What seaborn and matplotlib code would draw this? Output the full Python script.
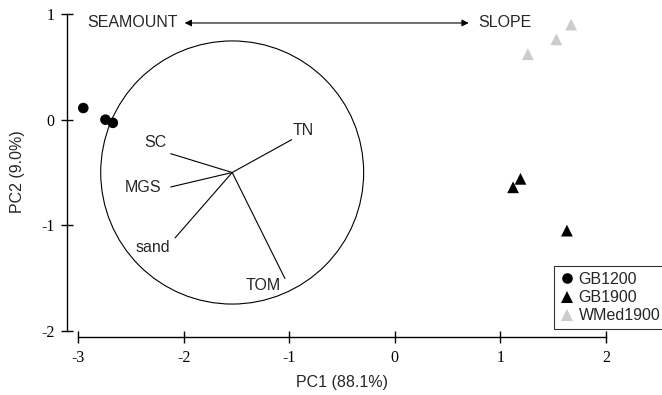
import numpy as np
import pandas as pd
import matplotlib
matplotlib.use("Agg")
import matplotlib.pyplot as plt
from matplotlib.patches import Circle
import seaborn as sns

# Sample scores on the first two principal components
groups = ["GB1200", "GB1200", "GB1200",
          "GB1900", "GB1900", "GB1900",
          "WMed1900", "WMed1900", "WMed1900"]
pc1 = [-2.95, -2.74, -2.67, 1.19, 1.12, 1.63, 1.67, 1.53, 1.26]
pc2 = [0.11, 0.00, -0.03, -0.56, -0.64, -1.05, 0.90, 0.76, 0.62]

# Variable loadings (drawn around the correlation circle centre)
var_names = ["TN", "SC", "MGS", "sand", "TOM"]
load_x = [-0.976, -2.122, -2.122, -2.081, -1.040]
load_y = [-0.189, -0.322, -0.637, -1.119, -1.504]
label_x = [-0.87, -2.27, -2.38, -2.29, -1.25]
label_y = [-0.10, -0.215, -0.643, -1.208, -1.568]
circle_center = (-1.54, -0.50)
circle_radius = 1.245

x_ticks = [-3, -2, -1, 0, 1, 2]
y_ticks = [-2, -1, 0, 1]

df = pd.DataFrame({"PC1": pc1, "PC2": pc2, "group": groups})

sns.set_style("ticks")
plt.rcParams["font.family"] = ["Liberation Sans", "DejaVu Sans"]

fig = plt.figure(figsize=(6.62, 3.95), dpi=100)
W, H = 662, 395
ax = fig.add_axes([67 / W, (H - 337) / H, (662 - 67) / W, 337 / H])

palette = {"GB1200": "black", "GB1900": "black", "WMed1900": "#cccccc"}
markers = {"GB1200": "o", "GB1900": "^", "WMed1900": "^"}
sizes = {"GB1200": 58, "GB1900": 72, "WMed1900": 72}
sns.scatterplot(data=df, x="PC1", y="PC2", hue="group", style="group",
                size="group", sizes=sizes,
                palette=palette, markers=markers, linewidth=0,
                ax=ax, legend="full", zorder=3)

# correlation circle and loading vectors
ax.add_patch(Circle(circle_center, circle_radius, fill=False,
                    edgecolor="black", linewidth=0.8))
for lx, ly, tx, ty, name in zip(load_x, load_y, label_x, label_y, var_names):
    ax.plot([circle_center[0], lx], [circle_center[1], ly],
            color="black", linewidth=0.8)
    ax.text(tx, ty, name, fontsize=11.5, ha="center", va="center")

# gradient annotation
ax.annotate("", xy=(-1.99, 0.915), xytext=(0.70, 0.915),
            arrowprops=dict(arrowstyle="<|-|>", color="black", lw=0.8,
                            mutation_scale=10, shrinkA=0, shrinkB=0))
ax.text(-2.48, 0.915, "SEAMOUNT", fontsize=11.5, ha="center", va="center")
ax.text(1.04, 0.915, "SLOPE", fontsize=11.5, ha="center", va="center")

ax.set_xlim(-3 - 11 / 105.6, 2 + 56 / 105.6)
ax.set_ylim(-2 - 6 / 105.7, 1 + 14 / 105.7)
ax.set_xticks(x_ticks)
ax.set_yticks(y_ticks)
ax.set_xticklabels([str(v) for v in x_ticks], family="Liberation Serif", fontsize=11.5)
ax.set_yticklabels([str(v) for v in y_ticks], family="Liberation Serif", fontsize=11.5)
ax.tick_params(direction="inout", length=8, width=1, pad=5, colors="black")

for side in ["top", "right"]:
    ax.spines[side].set_visible(False)
ax.spines["left"].set_bounds(-2, 1)
ax.spines["bottom"].set_bounds(-3, 2)
for side in ["left", "bottom"]:
    ax.spines[side].set_linewidth(1)
    ax.spines[side].set_color("black")

ax.set_xlabel("PC1 (88.1%)", fontsize=11.5)
ax.set_ylabel("PC2 (9.0%)", fontsize=11.5)
ax.xaxis.set_label_coords((342 - 67) / (662 - 67), -(375 - 337) / 337)
ax.yaxis.set_label_coords(-(67 - 25) / (662 - 67), (337 - 172) / 337)

handles, labels = ax.get_legend_handles_labels()
leg = ax.legend(handles, labels, loc="lower right",
                bbox_to_anchor=((666 - 67) / (662 - 67), (337 - 329) / 337),
                frameon=True, fancybox=False, fontsize=11.5,
                handletextpad=0.3, borderpad=0.35, labelspacing=0.2,
                handlelength=0.9, borderaxespad=0)
leg.get_frame().set_edgecolor("black")
leg.get_frame().set_linewidth(0.8)

fig.savefig("out.png", dpi=100)
